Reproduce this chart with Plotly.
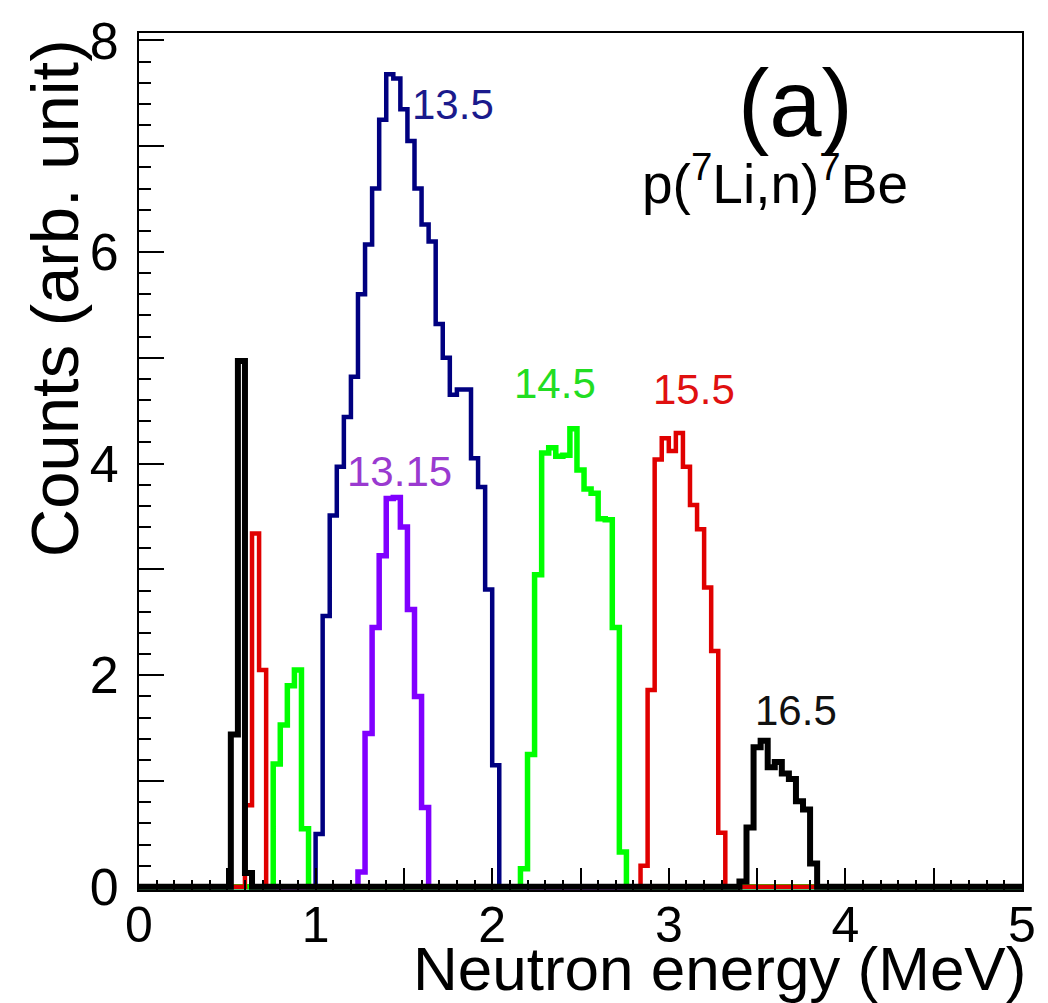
import plotly.graph_objects as go
import numpy as np

# ---------------- data ----------------
BIN_WIDTH = 0.04          # MeV
N_BINS = 125              # 0 .. 5 MeV

# beam energy 13.5 MeV (navy)
e13_5_start = [1.00]
e13_5_counts = [[0.50, 2.56, 3.51, 3.97, 4.44, 4.82, 5.60, 6.07, 6.60, 7.25, 7.68,
                 7.64, 7.35, 7.05, 6.60, 6.26, 6.10, 5.32, 5.00, 4.65, 4.70, 4.70,
                 4.05, 3.78, 2.81, 1.15]]
# beam energy 13.15 MeV (violet)
e13_15_start = [1.24]
e13_15_counts = [[0.14, 1.45, 2.45, 3.13, 3.67, 3.68, 3.40, 2.62, 1.80, 0.75]]
# beam energy 14.5 MeV (green)
e14_5_start = [0.76, 2.16]
e14_5_counts = [[1.16, 1.53, 1.90, 2.05, 0.55],
                [0.17, 1.25, 2.95, 4.10, 4.15, 4.07, 4.08, 4.33, 3.94, 3.76, 3.72,
                 3.48, 3.47, 2.45, 0.33]]
# beam energy 15.5 MeV (red)
e15_5_start = [0.60, 2.84]
e15_5_counts = [[0.77, 3.34, 2.05],
                [0.20, 1.86, 4.04, 4.24, 4.12, 4.29, 3.97, 3.61, 3.38, 2.83, 2.23, 0.51]]
# beam energy 16.5 MeV (black)
e16_5_start = [0.52, 3.40]
e16_5_counts = [[1.44, 4.97, 0.13],
                [0.05, 0.56, 1.32, 1.38, 1.13, 1.18, 1.07, 1.02, 0.81, 0.73, 0.22]]

x_tick_values = [0, 0.5, 1, 1.5, 2, 2.5, 3, 3.5, 4, 4.5, 5]
x_tick_labels = ["0", "", "1", "", "2", "", "3", "", "4", "", "5"]
y_tick_values = [0, 1, 2, 3, 4, 5, 6, 7, 8]
y_tick_labels = ["0", "", "2", "", "4", "", "6", "", "8"]

labels_text = ["13.5", "13.15", "14.5", "15.5", "16.5"]
labels_x = [1.78, 1.475, 2.356, 3.14, 3.72]
labels_y = [7.39, 3.93, 4.76, 4.70, 1.67]
labels_color = ["#1a1a8c", "#9a3ad0", "#22dd22", "#e01010", "#111111"]

# ---------------- build ----------------
FONT = "Liberation Sans, Arial, Helvetica, sans-serif"
edges = np.round(np.arange(N_BINS + 1) * BIN_WIDTH, 6)


def full_hist(starts, segments):
    c = np.zeros(N_BINS)
    for s, seg in zip(starts, segments):
        i0 = int(round(s / BIN_WIDTH))
        c[i0:i0 + len(seg)] = seg
    return c


series = [
    (e13_5_start, e13_5_counts, "#000080", 4.5, "13.5 MeV"),
    (e13_15_start, e13_15_counts, "#8000ff", 5.5, "13.15 MeV"),
    (e14_5_start, e14_5_counts, "#00ff00", 5.5, "14.5 MeV"),
    (e15_5_start, e15_5_counts, "#e00000", 4.5, "15.5 MeV"),
    (e16_5_start, e16_5_counts, "#000000", 6.0, "16.5 MeV"),
]

fig = go.Figure()
for starts, segs, col, lw, name in series:
    c = full_hist(starts, segs)
    y = np.append(c, c[-1])
    fig.add_trace(go.Scatter(x=edges, y=y, mode="lines", line=dict(color=col, width=lw, shape="hv"),
                             name=name, showlegend=False, hoverinfo="skip"))

for t, xx, yy, col in zip(labels_text, labels_x, labels_y, labels_color):
    fig.add_annotation(x=xx, y=yy, xref="x", yref="y", text=t, showarrow=False,
                       font=dict(family=FONT, size=42, color=col), xanchor="center", yanchor="middle")

fig.add_annotation(x=3.72, y=7.40, xref="x", yref="y", text="(a)", showarrow=False,
                   font=dict(family=FONT, size=94, color="black"), xanchor="center", yanchor="middle")
fig.add_annotation(x=3.60, y=6.68, xref="x", yref="y", text="p(<sup>7</sup>Li,n)<sup>7</sup>Be",
                   showarrow=False, font=dict(family=FONT, size=55, color="black"),
                   xanchor="center", yanchor="middle")

L, R, T, B = 139, 24, 22, 113
W, H = 1048, 1003
pw, ph = W - L - R, H - T - B

fig.add_annotation(x=(55 - L) / pw, y=(H - B - 26) / ph, xref="paper", yref="paper",
                   text="Counts (arb. unit)", textangle=-90, showarrow=False,
                   font=dict(family=FONT, size=67, color="black"), xanchor="center", yanchor="top")
fig.add_annotation(x=(1030 - L) / pw, y=(H - B - 970) / ph, xref="paper", yref="paper",
                   text="Neutron energy (MeV)", showarrow=False,
                   font=dict(family=FONT, size=62, color="black"), xanchor="right", yanchor="middle")

fig.update_layout(
    width=W, height=H,
    margin=dict(l=L, r=R, t=T, b=B),
    paper_bgcolor="white", plot_bgcolor="white",
    xaxis=dict(range=[0, 5], showgrid=False, zeroline=False, showline=True, linewidth=2,
               linecolor="black", mirror=True, ticks="inside", tickmode="array",
               tickvals=x_tick_values, ticktext=x_tick_labels, ticklen=22, tickwidth=1.5,
               tickcolor="black", ticklabelstandoff=-10,
               tickfont=dict(family=FONT, size=50, color="black"),
               minor=dict(dtick=0.1, tick0=0, ticks="inside", ticklen=10, tickwidth=1.5,
                          tickcolor="black", showgrid=False)),
    yaxis=dict(range=[-0.03, 8.07], showgrid=False, zeroline=False, showline=True, linewidth=2,
               linecolor="black", mirror=True, ticks="inside", tickmode="array",
               tickvals=y_tick_values, ticktext=y_tick_labels, ticklen=25, tickwidth=1.5,
               tickcolor="black", ticklabelstandoff=8,
               tickfont=dict(family=FONT, size=52, color="black"),
               minor=dict(dtick=0.2, tick0=0, ticks="inside", ticklen=12, tickwidth=1.5,
                          tickcolor="black", showgrid=False)),
)

fig.write_html("out.html")
